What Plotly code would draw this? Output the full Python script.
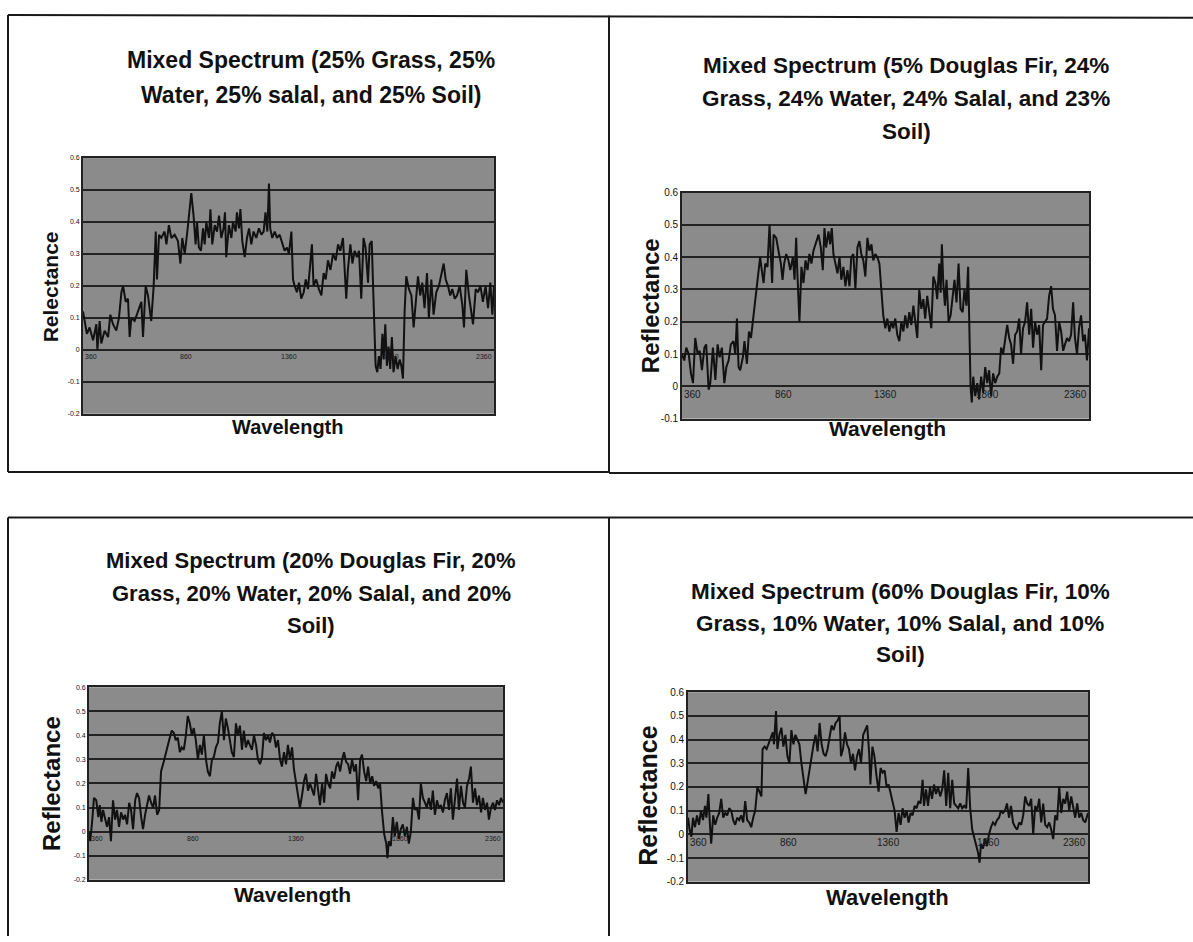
import plotly.graph_objects as go

W, H = 1193, 942

# ---------------- data (wavelength nm, reflectance) ----------------
wl_1 = [360,379,392,409,425,430,441,449,465,482,
        493,506,522,535,547,555,568,579,587,595,
        611,628,644,652,665,676,692,704,714,720,
        730,741,757,766,778,790,806,822,834,843,
        855,866,876,887,898,908,915,924,934,944,
        952,960,973,980,989,1001,1012,1022,1033,1044,
        1051,1057,1070,1082,1090,1103,1109,1119,1126,1135,
        1147,1158,1168,1179,1190,1203,1216,1228,1239,1248,
        1257,1265,1271,1281,1293,1304,1317,1330,1341,1353,
        1362,1374,1382,1390,1401,1411,1422,1434,1444,1455,
        1466,1474,1482,1495,1508,1520,1531,1541,1552,1564,
        1577,1590,1601,1612,1625,1633,1641,1649,1661,1671,
        1682,1693,1703,1714,1725,1735,1747,1755,1765,1774,
        1784,1792,1800,1808,1817,1823,1831,1839,1847,1855,
        1863,1871,1881,1891,1901,1909,1917,1925,1933,1946,
        1958,1969,1979,1990,2001,2011,2022,2034,2043,2055,
        2066,2079,2092,2104,2115,2125,2136,2147,2157,2169,
        2180,2193,2206,2214,2225,2238,2250,2258,2271,2282,
        2294,2306,2319,2331,2342,2352,2360]
refl_1 = [0.12,0.05,0.07,0.03,0.08,0.00,0.09,0.02,0.06,0.04,
          0.11,0.08,0.06,0.10,0.18,0.20,0.15,0.16,0.04,0.10,
          0.09,0.12,0.15,0.04,0.20,0.17,0.09,0.20,0.37,0.22,
          0.36,0.35,0.37,0.33,0.39,0.35,0.36,0.34,0.27,0.35,
          0.30,0.36,0.42,0.49,0.42,0.33,0.40,0.32,0.31,0.38,
          0.33,0.40,0.35,0.44,0.33,0.39,0.37,0.42,0.35,0.38,
          0.43,0.29,0.39,0.35,0.40,0.37,0.43,0.38,0.44,0.34,
          0.29,0.35,0.38,0.33,0.37,0.35,0.38,0.36,0.37,0.43,
          0.37,0.52,0.38,0.35,0.37,0.35,0.36,0.33,0.31,0.32,
          0.30,0.37,0.22,0.20,0.18,0.21,0.16,0.18,0.22,0.19,
          0.26,0.33,0.20,0.22,0.19,0.17,0.24,0.22,0.28,0.25,
          0.30,0.28,0.33,0.31,0.35,0.27,0.16,0.25,0.33,0.27,
          0.31,0.29,0.31,0.16,0.35,0.32,0.21,0.33,0.34,0.15,
          -0.05,-0.07,-0.02,-0.06,0.05,-0.03,0.08,-0.05,0.01,-0.06,
          0.04,-0.07,-0.02,-0.06,-0.03,-0.05,-0.09,0.12,0.23,0.19,
          0.17,0.07,0.15,0.23,0.17,0.21,0.13,0.24,0.10,0.22,
          0.11,0.18,0.20,0.24,0.27,0.22,0.20,0.17,0.19,0.16,
          0.17,0.20,0.14,0.07,0.25,0.17,0.12,0.08,0.19,0.18,
          0.20,0.15,0.20,0.13,0.21,0.11,0.20]

wl_2 = [360,371,381,393,404,414,425,437,447,458,
        470,479,491,499,512,524,535,545,556,568,
        578,589,600,613,622,630,638,646,659,667,
        679,689,699,712,725,736,744,752,761,769,
        780,790,797,803,810,823,834,846,854,862,
        872,883,892,905,913,921,927,937,947,957,
        967,977,986,996,1006,1019,1031,1042,1052,1060,
        1068,1080,1088,1096,1104,1114,1124,1134,1143,1153,
        1163,1173,1183,1192,1202,1212,1222,1232,1241,1251,
        1261,1271,1281,1291,1300,1310,1320,1330,1341,1349,
        1359,1369,1379,1389,1398,1408,1418,1428,1438,1448,
        1457,1467,1477,1487,1497,1506,1516,1526,1536,1546,
        1555,1565,1575,1585,1595,1605,1614,1624,1631,1637,
        1644,1652,1660,1670,1680,1690,1699,1709,1719,1729,
        1739,1748,1758,1766,1771,1778,1784,1791,1801,1811,
        1820,1830,1840,1850,1860,1869,1879,1889,1899,1909,
        1919,1928,1938,1948,1958,1968,1977,1987,1997,2007,
        2017,2026,2036,2046,2056,2066,2076,2085,2095,2105,
        2115,2125,2134,2144,2154,2164,2174,2183,2193,2203,
        2213,2223,2233,2242,2252,2262,2272,2282,2291,2301,
        2311,2321,2331,2340,2350,2360]
refl_2 = [0.10,0.08,0.12,0.10,0.04,0.01,0.15,0.10,0.11,0.05,
          0.12,0.13,-0.01,0.01,0.12,0.02,0.13,0.09,0.12,0.01,
          0.06,0.08,0.13,0.14,0.10,0.21,0.06,0.05,0.09,0.14,
          0.07,0.17,0.15,0.22,0.29,0.35,0.40,0.36,0.32,0.38,
          0.37,0.50,0.40,0.32,0.47,0.46,0.42,0.38,0.33,0.38,
          0.41,0.39,0.36,0.40,0.33,0.46,0.35,0.20,0.37,0.32,
          0.39,0.36,0.41,0.38,0.42,0.45,0.47,0.43,0.36,0.49,
          0.43,0.48,0.44,0.49,0.41,0.38,0.35,0.40,0.33,0.37,
          0.31,0.36,0.31,0.40,0.41,0.30,0.43,0.45,0.41,0.39,
          0.34,0.46,0.42,0.44,0.39,0.41,0.40,0.38,0.30,0.22,
          0.18,0.21,0.17,0.20,0.18,0.21,0.16,0.14,0.20,0.17,
          0.22,0.18,0.23,0.19,0.25,0.21,0.15,0.30,0.24,0.27,
          0.21,0.28,0.22,0.18,0.34,0.32,0.27,0.38,0.29,0.44,
          0.32,0.25,0.33,0.20,0.22,0.27,0.33,0.26,0.38,0.24,
          0.23,0.30,0.25,0.37,0.23,0.00,-0.05,0.03,-0.03,0.01,
          -0.04,0.03,-0.02,0.06,0.01,0.05,-0.03,0.04,0.01,0.03,
          0.04,0.12,0.10,0.14,0.19,0.15,0.13,0.07,0.16,0.17,
          0.21,0.10,0.18,0.20,0.26,0.16,0.24,0.12,0.20,0.16,
          0.19,0.05,0.19,0.20,0.21,0.28,0.31,0.24,0.22,0.11,
          0.20,0.17,0.11,0.13,0.15,0.14,0.16,0.26,0.15,0.10,
          0.18,0.22,0.14,0.16,0.08,0.18]

wl_3 = [360,366,376,384,395,405,412,420,428,437,
        447,457,466,476,486,495,505,515,525,534,
        544,554,563,573,583,592,602,612,621,631,
        641,650,660,670,679,689,699,708,721,734,
        747,760,770,779,789,799,808,818,828,837,
        847,857,866,876,886,896,905,915,925,934,
        944,954,963,973,983,992,1002,1012,1021,1031,
        1041,1050,1060,1070,1079,1089,1099,1108,1118,1128,
        1137,1147,1157,1167,1176,1186,1196,1205,1215,1225,
        1234,1244,1254,1263,1273,1283,1292,1302,1312,1321,
        1331,1341,1350,1360,1370,1379,1389,1399,1408,1418,
        1428,1437,1447,1457,1467,1476,1486,1496,1505,1515,
        1525,1534,1544,1554,1563,1573,1583,1592,1602,1612,
        1621,1631,1641,1650,1660,1670,1679,1689,1699,1708,
        1718,1728,1737,1747,1757,1766,1776,1786,1796,1802,
        1808,1818,1828,1837,1847,1857,1866,1876,1886,1896,
        1905,1915,1925,1934,1944,1954,1963,1973,1983,1992,
        2002,2012,2021,2031,2041,2050,2060,2070,2079,2089,
        2099,2108,2118,2128,2138,2147,2157,2167,2176,2186,
        2196,2205,2215,2225,2234,2244,2254,2263,2273,2283,
        2292,2302,2312,2321,2331,2341,2350,2360]
refl_3 = [0.00,-0.04,0.05,0.14,0.13,0.06,0.11,0.04,0.09,0.05,
          0.02,0.06,-0.04,0.13,0.05,0.09,0.02,0.08,0.05,0.07,
          0.03,0.12,0.09,0.01,0.13,0.16,0.14,0.06,0.01,0.07,
          0.11,0.15,0.12,0.10,0.15,0.07,0.09,0.25,0.29,0.34,
          0.38,0.42,0.41,0.38,0.39,0.33,0.35,0.34,0.40,0.48,
          0.45,0.40,0.43,0.38,0.30,0.36,0.32,0.40,0.30,0.25,
          0.23,0.30,0.31,0.35,0.37,0.45,0.50,0.38,0.47,0.43,
          0.38,0.33,0.31,0.45,0.40,0.44,0.34,0.42,0.35,0.38,
          0.36,0.34,0.40,0.36,0.30,0.28,0.31,0.41,0.38,0.40,
          0.37,0.41,0.40,0.35,0.38,0.30,0.27,0.33,0.28,0.36,
          0.30,0.35,0.26,0.21,0.16,0.10,0.15,0.21,0.24,0.17,
          0.20,0.18,0.15,0.24,0.16,0.11,0.20,0.12,0.24,0.20,
          0.18,0.25,0.22,0.27,0.29,0.25,0.30,0.33,0.29,0.28,
          0.24,0.30,0.25,0.28,0.13,0.30,0.32,0.25,0.21,0.27,
          0.20,0.23,0.19,0.21,0.18,0.20,0.08,-0.01,-0.05,-0.11,
          -0.04,-0.06,0.06,-0.02,0.04,-0.03,0.01,0.03,-0.02,0.02,
          -0.05,0.00,0.14,0.09,0.10,0.05,0.20,0.14,0.12,0.10,
          0.14,0.09,0.17,0.07,0.13,0.10,0.11,0.08,0.13,0.16,
          0.09,0.18,0.05,0.15,0.22,0.09,0.19,0.12,0.10,0.19,
          0.22,0.27,0.12,0.18,0.11,0.15,0.08,0.14,0.09,0.12,
          0.05,0.10,0.12,0.09,0.13,0.11,0.14,0.12]

wl_4 = [360,368,377,385,395,405,415,425,435,445,
        452,462,469,476,486,496,506,516,526,536,
        546,556,566,576,586,596,606,616,626,636,
        646,656,666,676,686,696,707,717,727,733,
        743,753,763,773,784,790,800,807,817,827,
        837,847,857,867,877,887,897,907,917,927,
        938,948,958,968,978,988,998,1008,1018,1028,
        1038,1048,1058,1068,1078,1088,1098,1108,1118,1125,
        1135,1145,1155,1165,1175,1185,1195,1205,1215,1225,
        1236,1246,1256,1266,1272,1282,1292,1302,1313,1323,
        1333,1343,1353,1363,1373,1383,1393,1403,1413,1423,
        1433,1443,1453,1463,1473,1483,1493,1503,1513,1523,
        1533,1540,1550,1560,1570,1580,1590,1600,1610,1621,
        1631,1641,1651,1661,1671,1681,1691,1701,1711,1721,
        1731,1741,1751,1761,1771,1781,1791,1801,1811,1818,
        1825,1835,1845,1855,1865,1875,1885,1895,1905,1915,
        1925,1935,1945,1955,1965,1975,1985,1996,2006,2016,
        2026,2036,2046,2056,2066,2076,2086,2096,2106,2116,
        2126,2136,2146,2156,2166,2176,2186,2196,2206,2216,
        2226,2236,2246,2256,2266,2276,2286,2296,2306,2316,
        2326,2336,2346,2360]
refl_4 = [0.07,0.02,-0.01,0.07,0.03,0.08,0.04,0.10,0.06,0.12,
          0.07,0.17,0.05,-0.04,0.08,0.04,0.07,0.09,0.15,0.07,
          0.09,0.08,0.11,0.10,0.06,0.04,0.07,0.06,0.08,0.05,
          0.14,0.06,0.05,0.03,0.07,0.10,0.20,0.18,0.16,0.36,
          0.37,0.36,0.38,0.40,0.43,0.38,0.52,0.36,0.42,0.45,
          0.37,0.42,0.33,0.30,0.44,0.38,0.42,0.40,0.38,0.30,
          0.22,0.17,0.22,0.28,0.33,0.38,0.42,0.35,0.47,0.38,
          0.34,0.33,0.36,0.42,0.46,0.44,0.47,0.48,0.50,0.33,
          0.36,0.43,0.38,0.36,0.30,0.34,0.27,0.33,0.36,0.30,
          0.42,0.44,0.46,0.34,0.21,0.37,0.33,0.25,0.18,0.28,
          0.26,0.27,0.20,0.21,0.17,0.14,0.10,0.01,0.09,0.04,
          0.11,0.07,0.10,0.05,0.09,0.08,0.12,0.11,0.14,0.13,
          0.23,0.12,0.19,0.12,0.20,0.15,0.21,0.17,0.20,0.16,
          0.19,0.27,0.12,0.26,0.11,0.23,0.13,0.12,0.11,0.13,
          0.11,0.12,0.11,0.28,0.11,0.02,-0.01,-0.05,-0.08,-0.12,
          -0.04,-0.06,-0.02,-0.05,0.00,0.03,0.05,0.04,0.06,0.07,
          0.10,0.09,0.10,0.13,0.07,0.12,0.05,0.03,0.02,0.05,
          0.04,0.08,0.16,0.13,0.12,0.15,0.00,0.12,0.10,0.15,
          0.05,0.13,0.04,0.03,0.05,0.02,-0.02,0.08,0.06,0.20,
          0.09,0.15,0.13,0.18,0.10,0.16,0.11,0.07,0.13,0.07,
          0.09,0.06,0.05,0.09]

# tick labels
x_tick_vals = [360, 860, 1360, 1860, 2360]
x_tick_text = ["360", "860", "1360", "1860", "2360"]
y_ticks_a = [-0.2, -0.1, 0, 0.1, 0.2, 0.3, 0.4, 0.5, 0.6]
y_text_a = ["-0.2", "-0.1", "0", "0.1", "0.2", "0.3", "0.4", "0.5", "0.6"]
y_ticks_b = [-0.1, 0, 0.1, 0.2, 0.3, 0.4, 0.5, 0.6]
y_text_b = ["-0.1", "0", "0.1", "0.2", "0.3", "0.4", "0.5", "0.6"]

titles = [
    ["Mixed Spectrum (25% Grass, 25%", "Water, 25% salal, and 25% Soil)"],
    ["Mixed Spectrum (5% Douglas Fir, 24%", "Grass, 24% Water, 24% Salal, and 23%", "Soil)"],
    ["Mixed Spectrum (20% Douglas Fir, 20%", "Grass, 20% Water, 20% Salal, and 20%", "Soil)"],
    ["Mixed Spectrum (60% Douglas Fir, 10%", "Grass, 10% Water, 10% Salal, and 10%", "Soil)"],
]
y_titles = ["Relectance", "Reflectance", "Reflectance", "Reflectance"]
x_title = "Wavelength"

# ---------------- layout geometry (pixels) ----------------
panels = [
    dict(wl=wl_1, r=refl_1, px=(83, 494), py=(154, 413), yr=(-0.2, 0.6), yt=(y_ticks_a, y_text_a),
         tf=7, xf=7, tx=311, ty=[55, 90], tsize=23,
         yt_pos=(50, 285), yt_size=21, xt_pos=(288, 426), xt_size=20),
    dict(wl=wl_2, r=refl_2, px=(682, 1089), py=(189, 418), yr=(-0.1, 0.6), yt=(y_ticks_b, y_text_b),
         tf=10, xf=10, tx=906, ty=[60, 94, 127], tsize=22.5,
         yt_pos=(650, 303), yt_size=24, xt_pos=(887, 428), xt_size=21),
    dict(wl=wl_3, r=refl_3, px=(89, 503), py=(690, 885), yr=(-0.2, 0.6), yt=(y_ticks_a, y_text_a),
         tf=7, xf=7, tx=311, ty=[562, 595, 627], tsize=22,
         yt_pos=(52, 787), yt_size=24, xt_pos=(292, 900), xt_size=21),
    dict(wl=wl_4, r=refl_4, px=(688, 1088), py=(695, 887), yr=(-0.2, 0.6), yt=(y_ticks_a, y_text_a),
         tf=10, xf=10, tx=900, ty=[593, 625, 657], tsize=22.5,
         yt_pos=(648, 800), yt_size=25, xt_pos=(887, 903), xt_size=22),
]

FONT = "Liberation Sans, Arial, sans-serif"
GRID = "#222222"
BG = "#8b8b8b"


def fx(p):
    return p / W


def fy(p):
    return 1 - p / H


fig = go.Figure()
annotations = []
layout_axes = {}

for i, p in enumerate(panels):
    n = i + 1
    xa = "x" if n == 1 else f"x{n}"
    ya = "y" if n == 1 else f"y{n}"
    fig.add_trace(go.Scatter(x=p["wl"], y=p["r"], mode="lines",
                             line=dict(color="#111111", width=2),
                             xaxis=xa, yaxis=ya, showlegend=False, hoverinfo="skip"))
    layout_axes["xaxis" if n == 1 else f"xaxis{n}"] = dict(
        domain=[fx(p["px"][0]), fx(p["px"][1])], range=[360, 2360], anchor=ya,
        showgrid=False, showticklabels=False, ticks="", zeroline=False,
        showline=True, mirror=True, linecolor=GRID, linewidth=1.8, fixedrange=True)
    layout_axes["yaxis" if n == 1 else f"yaxis{n}"] = dict(
        domain=[fy(p["py"][1]), fy(p["py"][0])], range=list(p["yr"]), anchor=xa,
        tickvals=p["yt"][0], ticktext=p["yt"][1], tickfont=dict(size=p["tf"], color="#111", family=FONT),
        showgrid=True, gridcolor=GRID, gridwidth=1.5, zeroline=False, ticks="",
        showline=True, mirror=True, linecolor=GRID, linewidth=1.8, fixedrange=True)
    # category labels sit on the zero line
    for v, t in zip(x_tick_vals, x_tick_text):
        anchor = "left" if v == x_tick_vals[0] else ("right" if v == x_tick_vals[-1] else "center")
        annotations.append(dict(x=v, y=0, xref=xa, yref=ya, text=t, showarrow=False,
                                xanchor=anchor, yanchor="top", yshift=-1,
                                font=dict(size=p["xf"], color="#1a1a1a", family=FONT)))
    for line, yy in zip(titles[i], p["ty"]):
        annotations.append(dict(x=fx(p["tx"]), y=fy(yy), xref="paper", yref="paper", text=f"<b>{line}</b>",
                                showarrow=False, xanchor="center", yanchor="middle",
                                font=dict(size=p["tsize"], color="#111", family=FONT)))
    annotations.append(dict(x=fx(p["yt_pos"][0]), y=fy(p["yt_pos"][1]), xref="paper", yref="paper",
                            text=f"<b>{y_titles[i]}</b>", textangle=-90, showarrow=False,
                            xanchor="center", yanchor="middle",
                            font=dict(size=p["yt_size"], color="#111", family=FONT)))
    annotations.append(dict(x=fx(p["xt_pos"][0]), y=fy(p["xt_pos"][1]), xref="paper", yref="paper",
                            text=f"<b>{x_title}</b>", showarrow=False,
                            xanchor="center", yanchor="middle",
                            font=dict(size=p["xt_size"], color="#111", family=FONT)))

# panel frame lines
frame = [
    ((8, 9), (1193, 12)),
    ((8, 9), (8, 472)),
    ((609, 10), (609, 473)),
    ((8, 472), (609, 472)),
    ((609, 473), (1193, 473)),
    ((8, 518), (1193, 518)),
    ((8, 518), (8, 942)),
    ((609, 518), (609, 942)),
]
shapes = [dict(type="line", xref="paper", yref="paper", x0=fx(a[0]), y0=fy(a[1]), x1=fx(b[0]), y1=fy(b[1]),
               line=dict(color="#1a1a1a", width=2)) for a, b in frame]

fig.update_layout(
    width=W, height=H, margin=dict(l=0, r=0, t=0, b=0),
    paper_bgcolor="white", plot_bgcolor=BG,
    annotations=annotations, shapes=shapes,
    font=dict(family=FONT), **layout_axes)

fig.write_html("out.html", config={"displayModeBar": False},
               post_script="document.body.style.margin='0';document.body.style.overflow='hidden';")
